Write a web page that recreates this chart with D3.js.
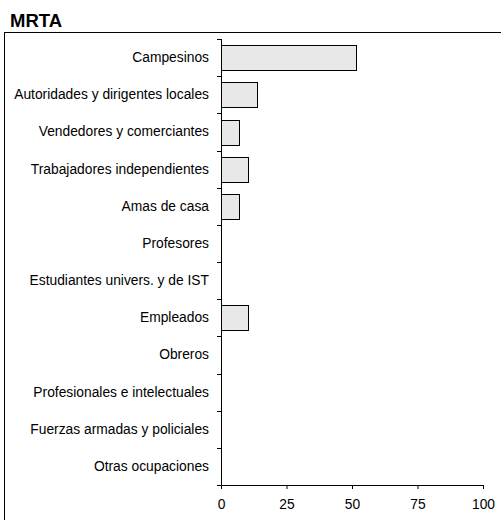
<!DOCTYPE html>
<html>
<head>
<meta charset="utf-8">
<script src="https://cdn.jsdelivr.net/npm/d3@7"></script>
<style>
  html, body { margin: 0; padding: 0; background: #fff; }
  svg { display: block; font-family: "Liberation Sans", Arial, sans-serif; }
</style>
</head>
<body>
<svg id="chart" width="501" height="520"></svg>
<script>
const title = "MRTA";
const categories = [
  "Campesinos",
  "Autoridades y dirigentes locales",
  "Vendedores y comerciantes",
  "Trabajadores independientes",
  "Amas de casa",
  "Profesores",
  "Estudiantes univers. y de IST",
  "Empleados",
  "Obreros",
  "Profesionales e intelectuales",
  "Fuerzas armadas y policiales",
  "Otras ocupaciones"
];
const values = [51.7, 13.8, 6.9, 10.3, 6.9, 0, 0, 10.3, 0, 0, 0, 0];
const xTicks = [0, 25, 50, 75, 100];

const svg = d3.select("#chart");

// outer frame
svg.append("rect")
  .attr("x", 4.5).attr("y", 32.5)
  .attr("width", 600).attr("height", 600)
  .attr("fill", "none").attr("stroke", "#000").attr("stroke-width", 1);

// title
svg.append("text")
  .attr("x", 10).attr("y", 26.5)
  .attr("font-size", "18.5px").attr("font-weight", "bold")
  .attr("fill", "#000")
  .text(title);

const x = d3.scaleLinear().domain([0, 100]).range([221, 483]);
const y = d3.scaleBand().domain(categories).range([39, 485]).padding(0);

// bars
svg.append("g").selectAll("rect")
  .data(categories.map((c, i) => ({c, v: values[i]})).filter(d => d.v > 0))
  .join("rect")
  .attr("x", x(0) + 0.5)
  .attr("y", d => Math.round(y(d.c) + y.bandwidth() * 0.17) + 0.5)
  .attr("width", d => Math.round(x(d.v) - x(0)))
  .attr("height", Math.round(y.bandwidth() * 0.66))
  .attr("fill", "#e8e8e8")
  .attr("stroke", "#000")
  .attr("stroke-width", 1);

// y axis with labels
const yAxis = svg.append("g")
  .attr("transform", `translate(${x(0)},0)`)
  .call(d3.axisLeft(y).tickSize(0).tickPadding(12));
yAxis.select(".domain").remove();
yAxis.selectAll("text").attr("font-size", "13.8px").attr("fill", "#000")
  .attr("font-family", "'Liberation Sans', Arial, sans-serif");

// y axis line and boundary ticks
const bounds = categories.map(c => y(c)).concat([y.range()[1]]);
const yl = svg.append("g");
yl.append("line")
  .attr("x1", x(0) + 0.5).attr("x2", x(0) + 0.5)
  .attr("y1", y.range()[0]).attr("y2", y.range()[1] + 0.5)
  .attr("stroke", "#000");
yl.selectAll("line.tk").data(bounds).join("line")
  .attr("class", "tk")
  .attr("x1", x(0) - 4).attr("x2", x(0) + 0.5)
  .attr("y1", d => Math.round(d) + 0.5).attr("y2", d => Math.round(d) + 0.5)
  .attr("stroke", "#000");

// x axis
const xAxis = svg.append("g")
  .attr("transform", `translate(0,${y.range()[1]})`)
  .call(d3.axisBottom(x).tickValues(xTicks).tickSize(4).tickPadding(10).tickSizeOuter(0));
xAxis.select(".domain").attr("stroke", "#000");
xAxis.selectAll("text").attr("font-size", "13.8px").attr("fill", "#000")
  .attr("font-family", "'Liberation Sans', Arial, sans-serif");
</script>
</body>
</html>
